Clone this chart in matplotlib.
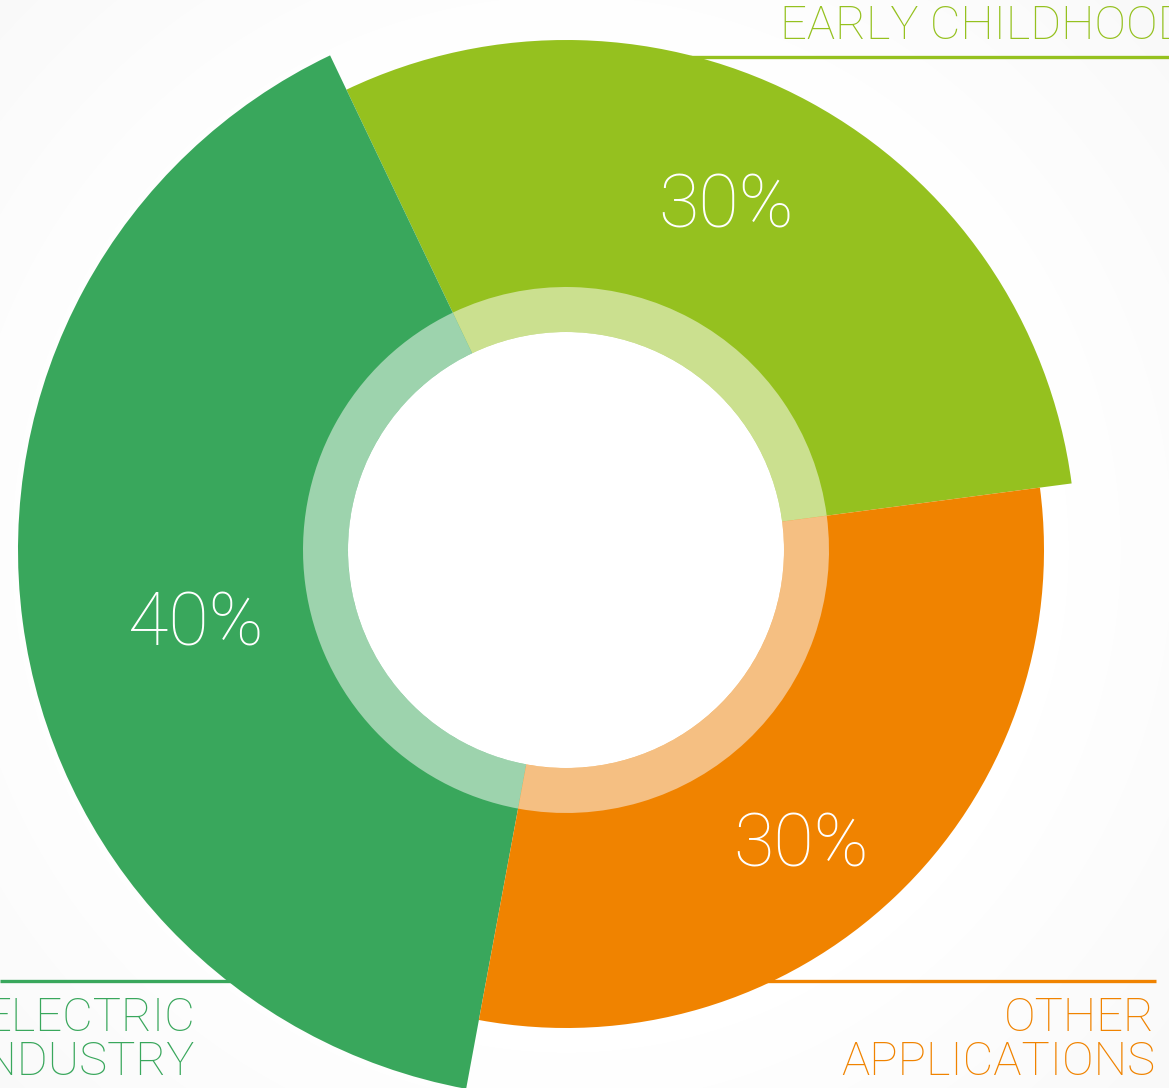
import numpy as np
import matplotlib
matplotlib.use('Agg')
import matplotlib.pyplot as plt
from matplotlib.patches import Wedge, Circle

# data
labels = ['EARLY CHILDHOOD', 'ELECTRIC\nINDUSTRY', 'OTHER\nAPPLICATIONS']
shares = [30, 40, 30]
outer_r = [510, 548, 478]   # each slice sticks out by its own radius
colors = ['#95c11f', '#39a75c', '#f08300']
light_colors = ['#cbe08f', '#9dd3ad', '#f5bf82']
start_angle = 7.5
label_nudge = [3.5, 4.0, -5.0]   # degrees, percent labels

W, H = 1169, 1088
cx, cy = 566, H - 550

fig = plt.figure(figsize=(W / 100, H / 100), dpi=100)
ax = fig.add_axes([0, 0, 1, 1])
ax.set_xlim(0, W)
ax.set_ylim(0, H)
ax.set_aspect('equal')
ax.axis('off')

# faint radial background, white in the middle
yy, xx = np.mgrid[0:H, 0:W]
dist = np.hypot(xx - cx, yy - (H - cy))
bg = 1.0 - 0.03 * np.clip((dist - 450) / 400.0, 0, 1)
ax.imshow(bg, cmap='gray', vmin=0, vmax=1, extent=[0, W, 0, H],
          origin='upper', zorder=0, aspect='auto')

plt.rcParams['font.family'] = ['Roboto', 'DejaVu Sans']

# leader lines (behind the slices)
ax.plot([690, W], [H - 57, H - 57], color=colors[0], lw=2.4, zorder=1,
        solid_capstyle='butt')
ax.plot([0, 300], [H - 981, H - 981], color=colors[1], lw=2.4, zorder=1,
        solid_capstyle='butt')
ax.plot([700, 1156], [H - 981, H - 981], color=colors[2], lw=2.4, zorder=1,
        solid_capstyle='butt')

total = sum(shares)
a0 = start_angle
for i, v in enumerate(shares):
    span = 360.0 * v / total
    a1 = a0 + span
    ax.add_patch(Wedge((cx, cy), outer_r[i], a0, a1, color=colors[i],
                       lw=0, zorder=2))
    ax.add_patch(Wedge((cx, cy), 263, a0, a1, width=45,
                       color=light_colors[i], lw=0, zorder=3))
    mid = np.radians((a0 + a1) / 2 + label_nudge[i])
    ax.text(cx + 378 * np.cos(mid), cy + 378 * np.sin(mid), f'{v}%',
            color='white', fontsize=53, fontweight='light',
            ha='center', va='center', zorder=5)
    a0 = a1

ax.add_patch(Circle((cx, cy), 218, color='white', lw=0, zorder=4))

# category labels
ax.text(780, H - 26, labels[0], color=colors[0], fontsize=34,
        fontweight='light', ha='left', va='center', zorder=5)
ax.text(195, H - 1040, labels[1], color=colors[1], fontsize=34,
        fontweight='light', ha='right', va='center', linespacing=1.0,
        zorder=5)
ax.text(1155, H - 1040, labels[2], color=colors[2], fontsize=34,
        fontweight='light', ha='right', va='center', linespacing=1.0,
        multialignment='right', zorder=5)

fig.savefig('out.png', dpi=100)
